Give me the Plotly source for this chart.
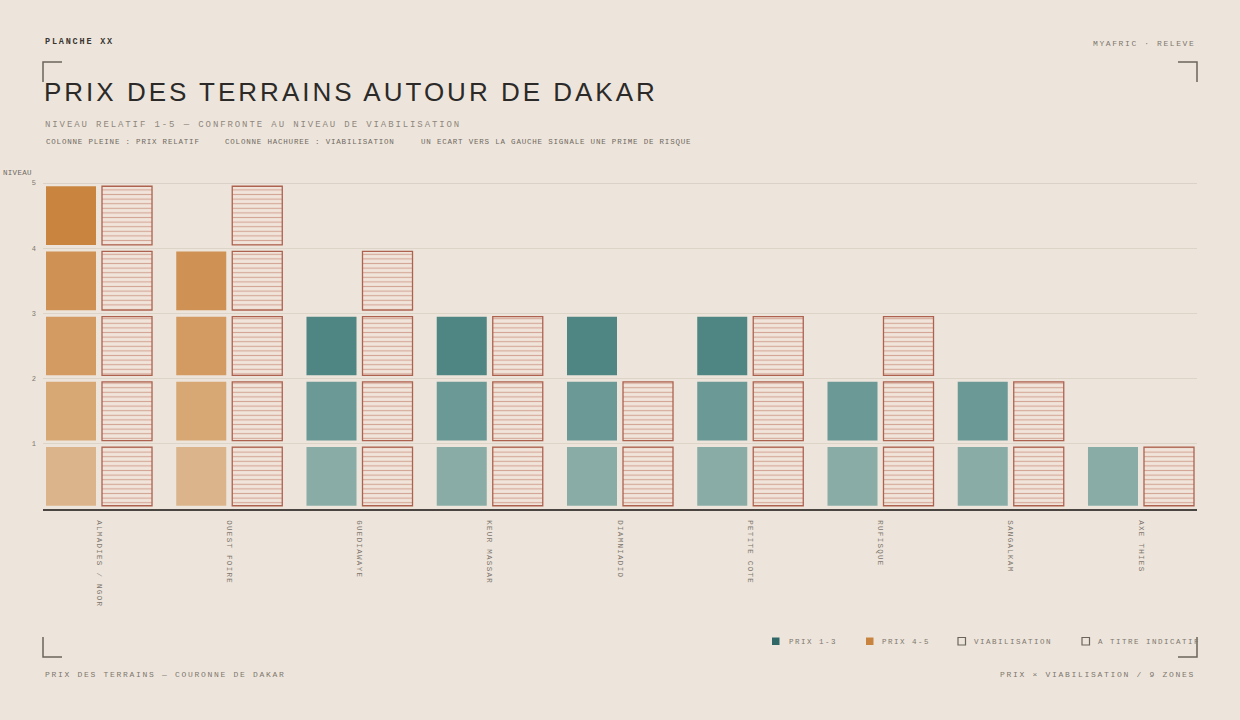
"""
Planche : prix des terrains autour de Dakar
Colonnes en cases : prix relatif (plein) et viabilisation (hachure)
"""

import plotly.graph_objects as go

ZONES = ["ALMADIES / NGOR", "OUEST FOIRE", "GUEDIAWAYE", "KEUR MASSAR",
         "DIAMNIADIO", "PETITE COTE", "RUFISQUE", "SANGALKAM", "AXE THIES"]
PRIX = [5, 4, 3, 3, 3, 3, 2, 2, 1]
VIABILISATION = [5, 5, 4, 3, 2, 3, 3, 2, 1]
NIVEAUX = [1, 2, 3, 4, 5]

# Palette
FOND = "#ede5db"
ORANGE = {1: "#dbb48b", 2: "#d7a874", 3: "#d39b62", 4: "#cf9254", 5: "#c9843f"}
TEAL = {1: "#89aca6", 2: "#6b9996", 3: "#4f8683", 4: "#3d7774", 5: "#2f6867"}
ROUILLE = "#ad624f"
ENCRE = "#3a3631"
GRIS = "#7d766e"
MONO = "Liberation Mono, Courier New, monospace"
SANS = "Liberation Sans, Arial, sans-serif"

# Géométrie de la zone de tracé (px)
G, D, H, B = 43, 1197, 183, 509


def px_x(x):
    return (x - G) / (D - G)


def px_y(y):
    return (B - y) / (B - H)


def esp(texte, ls):
    """Texte avec espacement des lettres"""
    return f'<span style="letter-spacing:{ls}px">{texte}</span>'


fig = go.Figure()

# Colonnes pleines : une case par niveau atteint
for k in NIVEAUX:
    idx = [i for i, p in enumerate(PRIX) if p >= k]
    if not idx:
        continue
    fig.add_trace(go.Bar(
        x=[ZONES[i] for i in idx],
        y=[0.9] * len(idx),
        base=[k - 0.95] * len(idx),
        width=0.384, offset=-0.407,
        marker=dict(color=[ORANGE[k] if PRIX[i] >= 4 else TEAL[k] for i in idx],
                    line=dict(width=0)),
        showlegend=False, hoverinfo="skip"
    ))

# Colonnes hachurées : viabilisation
for k in NIVEAUX:
    idx = [i for i, v in enumerate(VIABILISATION) if v >= k]
    if not idx:
        continue
    fig.add_trace(go.Bar(
        x=[ZONES[i] for i in idx],
        y=[0.9] * len(idx),
        base=[k - 0.95] * len(idx),
        width=0.384, offset=0.023,
        marker=dict(color="#f1e4da",
                    pattern=dict(shape="-", fgcolor="#d3a697", bgcolor="#f1e4da",
                                 size=4.6, solidity=0.24, fillmode="replace"),
                    line=dict(color=ROUILLE, width=1.3)),
        showlegend=False, hoverinfo="skip"
    ))

annotations = []


def texte(x, y, t, size, color, font=MONO, xanchor="left", yanchor="middle"):
    annotations.append(dict(x=x, y=y, xref="paper", yref="paper", text=t,
                            showarrow=False, xanchor=xanchor, yanchor=yanchor,
                            font=dict(family=font, size=size, color=color)))


texte(0, px_y(42), esp("<b>PLANCHE XX</b>", 1.8), 8.5, ENCRE)
texte(1, px_y(43), esp("MYAFRIC · RELEVE", 1.6), 8, GRIS, xanchor="right")
texte(-0.001, px_y(92), esp("PRIX DES TERRAINS AUTOUR DE DAKAR", 3), 26, "#2b2a28", font=SANS)
texte(0, px_y(125), esp("NIVEAU RELATIF 1-5 — CONFRONTE AU NIVEAU DE VIABILISATION", 1.9), 9, "#8f877d")
texte(px_x(44), px_y(142), esp("COLONNE PLEINE : PRIX RELATIF", 0.8), 7.5, "#6f685f")
texte(px_x(223), px_y(142), esp("COLONNE HACHUREE : VIABILISATION", 0.8), 7.5, "#6f685f")
texte(px_x(419), px_y(142), esp("UN ECART VERS LA GAUCHE SIGNALE UNE PRIME DE RISQUE", 0.8), 7.5, "#6f685f")
texte(px_x(1), px_y(173), esp("NIVEAU", 0.3), 7.5, "#6f685f")
texte(0, px_y(674), esp("PRIX DES TERRAINS — COURONNE DE DAKAR", 1.7), 8, GRIS)
texte(1, px_y(674), esp("PRIX × VIABILISATION / 9 ZONES", 1.7), 8, GRIS, xanchor="right")

# Légende
legende = [(772, "#2f6867", "PRIX 1-3", 787),
           (866, "#c8843f", "PRIX 4-5", 880),
           (958, None, "VIABILISATION", 972),
           (1082, None, "A TITRE INDICATIF", 1096)]
shapes = []
for xs, couleur, lib, xt in legende:
    shapes.append(dict(type="rect", xref="paper", yref="paper",
                       x0=px_x(xs), x1=px_x(xs + 7.5), y0=px_y(637.5), y1=px_y(645),
                       fillcolor=couleur if couleur else "rgba(0,0,0,0)",
                       line=dict(color=couleur if couleur else "#6b645c",
                                 width=0 if couleur else 1.2)))
    texte(px_x(xt), px_y(641.5), esp(lib, 1.5), 7.5, GRIS)

# Coins de cadrage
coins = [((43, 82), (43, 62), (62, 62)),
         ((1178, 62), (1197, 62), (1197, 82)),
         ((43, 637), (43, 657), (62, 657)),
         ((1197, 637), (1197, 657), (1178, 657))]
for a, b, c in coins:
    chemin = (f"M {px_x(a[0])} {px_y(a[1])} L {px_x(b[0])} {px_y(b[1])} "
              f"L {px_x(c[0])} {px_y(c[1])}")
    shapes.append(dict(type="path", xref="paper", yref="paper", path=chemin,
                       line=dict(color="#6b645c", width=1.5)))

# Ligne haute du repère
shapes.append(dict(type="line", xref="paper", yref="y", x0=0, x1=1, y0=5, y1=5,
                   line=dict(color="#c9bfb3", width=1), layer="below"))

fig.update_layout(
    width=1240, height=720,
    margin=dict(l=G, r=1240 - D, t=H, b=720 - B),
    paper_bgcolor=FOND, plot_bgcolor=FOND,
    barmode="overlay",
    showlegend=False,
    annotations=annotations,
    shapes=shapes,
    xaxis=dict(
        type="category", categoryorder="array", categoryarray=ZONES,
        range=[-0.43, 8.43],
        tickvals=ZONES, ticktext=[esp(z, 1.3) for z in ZONES],
        tickangle=90, ticks="", ticklabelstandoff=8,
        tickfont=dict(family=MONO, size=7.5, color=GRIS),
        showgrid=False, zeroline=False,
        showline=True, linecolor="#4a4540", linewidth=1.5,
    ),
    yaxis=dict(
        range=[0, 5], tickvals=NIVEAUX, ticktext=[str(n) for n in NIVEAUX],
        ticks="", ticklabelstandoff=6,
        tickfont=dict(family=MONO, size=7, color=GRIS),
        showgrid=True, gridcolor="#ddd4c8", gridwidth=0.8,
        zeroline=False, showline=False,
    ),
)

fig.write_html("out.html",
               config={"displayModeBar": False},
               post_script="document.body.style.margin='0';"
                           "document.body.style.background='#ede5db';")
